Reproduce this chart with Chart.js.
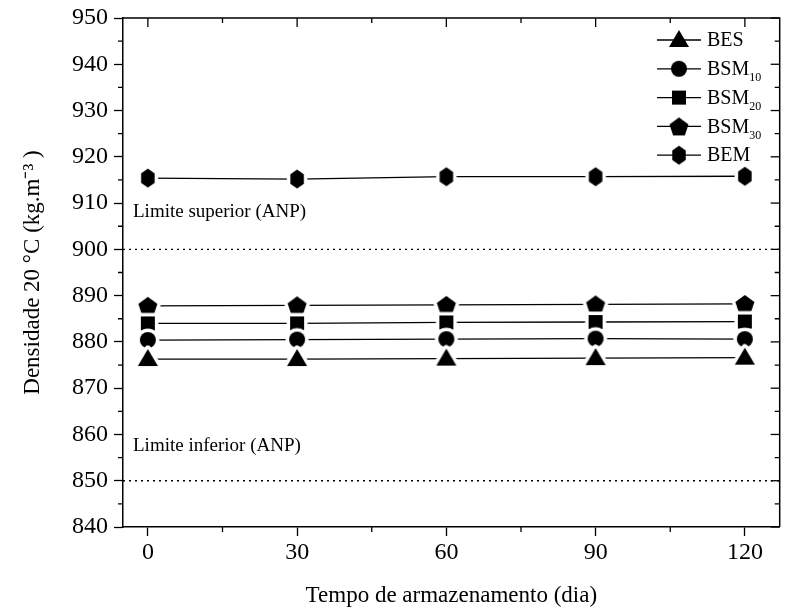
<!DOCTYPE html>
<html><head><meta charset="utf-8">
<script src="https://cdn.jsdelivr.net/npm/chart.js@4/dist/chart.umd.min.js"></script>
<style>html,body{margin:0;padding:0;background:#fff}#wrap{width:789px;height:614px}</style>
</head><body><div id="wrap"><canvas id="c" width="789" height="614"></canvas></div>
<script>
// ---- data ----
const days = [0, 30, 60, 90, 120];
const BES   = [876.3, 876.3, 876.4, 876.5, 876.6];
const BSM10 = [880.4, 880.5, 880.6, 880.7, 880.6];
const BSM20 = [884.0, 884.0, 884.2, 884.3, 884.4];
const BSM30 = [887.8, 887.9, 888.0, 888.1, 888.2];
const BEM   = [915.4, 915.2, 915.7, 915.7, 915.8];
const seriesNames = ['BES', 'BSM10', 'BSM20', 'BSM30', 'BEM'];
const legendBase = ['BES', 'BSM', 'BSM', 'BSM', 'BEM'];
const legendSub  = ['', '10', '20', '30', ''];
const xTickValues = [0, 30, 60, 90, 120];
const limitValues = [900, 850];
const limitLabels = ['Limite superior (ANP)', 'Limite inferior (ANP)'];
const limitLabelValues = [908, 857.5];
const xTitle = 'Tempo de armazenamento (dia)';
const yTitle = 'Densidade 20 \u00B0C (kg.m\u207B\u00B3 )';

const FONT = "'Liberation Serif', 'Times New Roman', serif";
Chart.defaults.font.family = FONT;
Chart.defaults.color = '#000';

const shapes = ['triangle', 'circle', 'square', 'pentagon', 'hexagon'];
function shapePath(ctx, shape, cx, cy) {
  ctx.beginPath();
  if (shape === 'triangle') {
    ctx.moveTo(cx, cy - 10); ctx.lineTo(cx + 10, cy + 7); ctx.lineTo(cx - 10, cy + 7); ctx.closePath();
  } else if (shape === 'circle') {
    ctx.arc(cx, cy, 8, 0, Math.PI * 2);
  } else if (shape === 'square') {
    ctx.rect(cx - 7, cy - 7, 14, 14);
  } else if (shape === 'pentagon') {
    const R = 10;
    for (let i = 0; i < 5; i++) {
      const a = -Math.PI / 2 + i * 2 * Math.PI / 5;
      const px = cx + R * Math.cos(a), py = cy + 1 + R * Math.sin(a);
      i ? ctx.lineTo(px, py) : ctx.moveTo(px, py);
    }
    ctx.closePath();
  } else if (shape === 'hexagon') {
    const R = 9.5;
    for (let i = 0; i < 6; i++) {
      const a = -Math.PI / 2 + i * Math.PI / 3;
      const px = cx + R * 0.82 * Math.cos(a), py = cy + R * Math.sin(a);
      i ? ctx.lineTo(px, py) : ctx.moveTo(px, py);
    }
    ctx.closePath();
  }
}
function makeMarker(shape, halo) {
  const cv = document.createElement('canvas');
  cv.width = 34; cv.height = 34;
  const ctx = cv.getContext('2d');
  if (halo) {
    shapePath(ctx, shape, 17, 17);
    ctx.lineJoin = 'round';
    ctx.strokeStyle = '#fff'; ctx.lineWidth = 7; ctx.stroke();
    ctx.fillStyle = '#fff'; ctx.fill();
  }
  shapePath(ctx, shape, 17, 17);
  ctx.fillStyle = '#000'; ctx.fill();
  return cv;
}
const seriesValues = [BES, BSM10, BSM20, BSM30, BEM];
const datasets = seriesValues.map((vals, i) => ({
  label: seriesNames[i],
  data: days.map((d, j) => ({ x: d, y: vals[j] })),
  borderColor: '#000',
  borderWidth: 1.3,
  pointStyle: makeMarker(shapes[i], true),
  pointRadius: 8,
  pointHoverRadius: 8,
  tension: 0,
  clip: false
}));
const legendMarkers = shapes.map(s => makeMarker(s, false));

const decorPlugin = {
  id: 'decor',
  afterDraw(chart) {
    const { ctx, chartArea: a, scales: { x, y } } = chart;
    ctx.save();
    ctx.strokeStyle = '#000'; ctx.lineWidth = 1.5;
    ctx.beginPath();
    ctx.moveTo(a.left, a.top); ctx.lineTo(a.right, a.top); ctx.lineTo(a.right, a.bottom);
    ctx.stroke();
    ctx.lineWidth = 1.3;
    for (let v = y.min; v <= y.max; v += 5) {
      const py = y.getPixelForValue(v);
      const major = (v % 10 === 0);
      ctx.beginPath();
      if (!major) { ctx.moveTo(a.left - 5, py); ctx.lineTo(a.left, py); }
      ctx.moveTo(a.right, py); ctx.lineTo(a.right - (major ? 9 : 5), py);
      ctx.stroke();
    }
    for (let v = 0; v <= 120; v += 15) {
      const px = x.getPixelForValue(v);
      const major = (v % 30 === 0);
      ctx.beginPath();
      if (!major) { ctx.moveTo(px, a.bottom); ctx.lineTo(px, a.bottom + 5); }
      ctx.moveTo(px, a.top); ctx.lineTo(px, a.top + (major ? 9 : 5));
      ctx.stroke();
    }
    ctx.setLineDash([2, 4]);
    ctx.lineWidth = 1.3;
    limitValues.forEach(v => {
      const py = y.getPixelForValue(v);
      ctx.beginPath(); ctx.moveTo(a.left, py); ctx.lineTo(a.right, py); ctx.stroke();
    });
    ctx.setLineDash([]);
    ctx.fillStyle = '#000';
    ctx.font = '19px ' + FONT;
    ctx.textBaseline = 'middle'; ctx.textAlign = 'left';
    limitLabels.forEach((t, i) => {
      ctx.fillText(t, a.left + 10, y.getPixelForValue(limitLabelValues[i]));
    });
    const lx0 = 657, lx1 = 701, mx = 679, tx = 707, ly0 = 40, dy = 28.8;
    seriesNames.forEach((n, i) => {
      const ly = ly0 + i * dy;
      ctx.beginPath(); ctx.moveTo(lx0, ly); ctx.lineTo(lx1, ly); ctx.stroke();
      const m = legendMarkers[i];
      ctx.drawImage(m, mx - m.width / 2, ly - m.height / 2);
      ctx.font = '20px ' + FONT;
      ctx.textBaseline = 'middle';
      ctx.fillText(legendBase[i], tx, ly + 1);
      if (legendSub[i]) {
        const w = ctx.measureText(legendBase[i]).width;
        ctx.font = '12px ' + FONT;
        ctx.fillText(legendSub[i], tx + w, ly + 9);
      }
    });
    ctx.restore();
  }
};

new Chart(document.getElementById('c'), {
  type: 'line',
  data: { datasets },
  options: {
    responsive: false,
    animation: false,
    events: [],
    layout: { padding: { top: 18, right: 9, left: 0, bottom: 0 } },
    plugins: { legend: { display: false }, tooltip: { enabled: false } },
    scales: {
      x: {
        type: 'linear', min: -5, max: 127,
        afterBuildTicks: s => { s.ticks = xTickValues.map(v => ({ value: v })); },
        afterFit: s => { s.height = 87; },
        grid: { drawOnChartArea: false, tickLength: 9, tickColor: '#000', tickWidth: 1.3 },
        border: { color: '#000', width: 1.5 },
        ticks: { font: { size: 24 }, padding: 2, maxRotation: 0, color: '#000' },
        title: { display: true, text: xTitle, font: { size: 23 }, color: '#000', padding: { top: 0, bottom: 4 } }
      },
      y: {
        min: 840, max: 950,
        afterFit: s => { s.width = 123; },
        grid: { drawOnChartArea: false, tickLength: 9, tickColor: '#000', tickWidth: 1.3 },
        border: { color: '#000', width: 1.5 },
        ticks: { stepSize: 10, font: { size: 24, lineHeight: 1 }, padding: 6, color: '#000' },
        title: { display: true, text: yTitle, font: { size: 23 }, color: '#000', padding: { top: 19, bottom: 0 } }
      }
    }
  },
  plugins: [decorPlugin]
});
</script>
</body></html>
